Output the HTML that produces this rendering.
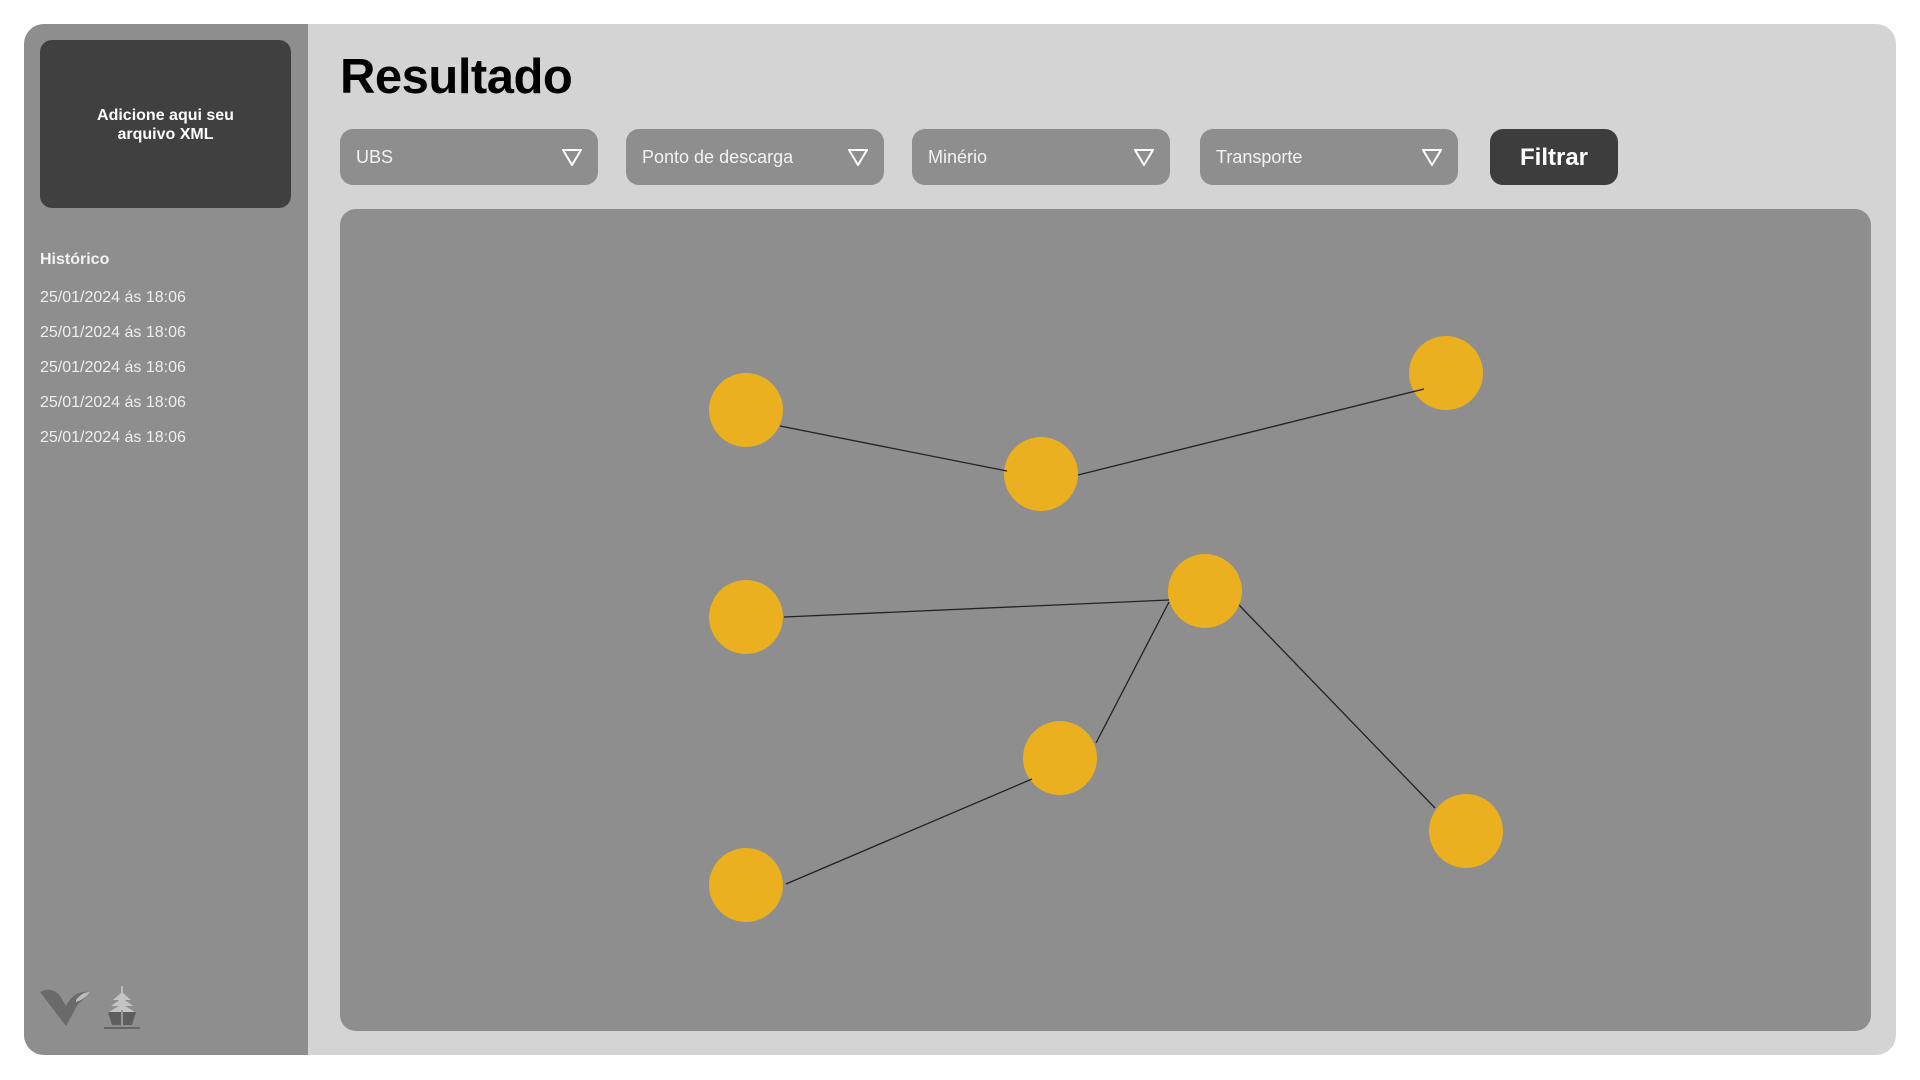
<!DOCTYPE html>
<html><head><meta charset="utf-8"><style>
*{margin:0;padding:0;box-sizing:border-box}
body{width:1920px;height:1080px;background:#fff;position:relative;overflow:hidden;font-family:"Liberation Sans","DejaVu Sans",sans-serif}
.card{position:absolute;left:24px;top:24px;width:1872px;height:1031px;background:#d4d4d4;border-radius:20px;overflow:hidden}
.side{position:absolute;left:0;top:0;width:284px;height:1031px;background:#8e8e8e}
.up{position:absolute;left:16px;top:16px;width:251px;height:168px;background:#404040;border-radius:12px;color:#fff;font-weight:bold;font-size:16px;text-align:center;padding-top:66px;line-height:19px}
.hist{position:absolute;left:16px;top:227px;color:#f2f2f2;font-weight:bold;font-size:16px}
.d{position:absolute;left:16px;color:#eee;font-size:16px}
h1{position:absolute;left:316px;top:25px;font-size:49px;font-weight:bold;color:#000;letter-spacing:-0.5px}
.dd{position:absolute;top:105px;width:258px;height:56px;background:#8e8e8e;border-radius:13px;color:#f2f2f2;font-size:18px;padding:18px 0 0 16px}
.dd svg{position:absolute;right:16px;top:20px}
.btn{position:absolute;left:1466px;top:105px;width:128px;height:56px;background:#3d3d3d;border-radius:13px;color:#fff;font-weight:bold;font-size:24px;text-align:center;line-height:58px}
.panel{position:absolute;left:316px;top:185px;width:1531px;height:822px;background:#8e8e8e;border-radius:16px}
</style></head><body>
<div class="card">
<div class="side">
<div class="up">Adicione aqui seu<br>arquivo XML</div>
<div class="hist">Histórico</div>
<div class="d" style="top:265px">25/01/2024 ás 18:06</div>
<div class="d" style="top:300px">25/01/2024 ás 18:06</div>
<div class="d" style="top:335px">25/01/2024 ás 18:06</div>
<div class="d" style="top:370px">25/01/2024 ás 18:06</div>
<div class="d" style="top:405px">25/01/2024 ás 18:06</div>
<svg style="position:absolute;left:14px;top:960px" width="130" height="50">
<path d="M2 8 Q14 2 22 12 L28 22 Q36 6 52 8 Q46 16 40 20 L28 42 Z" fill="#6a6a6a"/>
<path d="M38 16 Q44 8 52 8 Q46 16 38 18 Z" fill="#bdbdbd"/>
<rect x="83" y="2" width="2" height="8" fill="#bbb"/>
<path d="M75 16 L84 8 L93 16 Z M73 22 L84 14 L95 22 Z M71 28 L84 20 L97 28 Z" fill="#c4c4c4"/>
<path d="M70 28 L98 28 L94 41 L74 41 Z" fill="#5e5e5e"/>
<rect x="83" y="26" width="2" height="15" fill="#999"/>
<rect x="66" y="43" width="36" height="2" fill="#666"/>
</svg>
</div>
<h1>Resultado</h1>
<div class="dd" style="left:316px">UBS<svg width="20" height="17"><path d="M1 1 L19 1 L10 16 Z" fill="none" stroke="#fff" stroke-width="2"/></svg></div>
<div class="dd" style="left:602px">Ponto de descarga<svg width="20" height="17"><path d="M1 1 L19 1 L10 16 Z" fill="none" stroke="#fff" stroke-width="2"/></svg></div>
<div class="dd" style="left:888px">Minério<svg width="20" height="17"><path d="M1 1 L19 1 L10 16 Z" fill="none" stroke="#fff" stroke-width="2"/></svg></div>
<div class="dd" style="left:1176px">Transporte<svg width="20" height="17"><path d="M1 1 L19 1 L10 16 Z" fill="none" stroke="#fff" stroke-width="2"/></svg></div>
<div class="btn">Filtrar</div>
<div class="panel"></div>
</div>
<svg style="position:absolute;left:0;top:0" width="1920" height="1080">
<g fill="#ebb01f">
<circle cx="746" cy="410" r="37"/><circle cx="1041" cy="474" r="37"/><circle cx="1446" cy="373" r="37"/>
<circle cx="746" cy="617" r="37"/><circle cx="1205" cy="591" r="37"/><circle cx="1060" cy="758" r="37"/>
<circle cx="1466" cy="831" r="37"/><circle cx="746" cy="885" r="37"/>
</g>
<g stroke="#222" stroke-width="1.3">
<line x1="780" y1="426" x2="1007" y2="471"/>
<line x1="1078" y1="475" x2="1424" y2="389"/>
<line x1="784" y1="617" x2="1169" y2="600"/>
<line x1="1169" y1="602" x2="1096" y2="743"/>
<line x1="1239" y1="605" x2="1435" y2="808"/>
<line x1="1032" y1="779" x2="786" y2="884"/>
</g>
</svg>
</body></html>
